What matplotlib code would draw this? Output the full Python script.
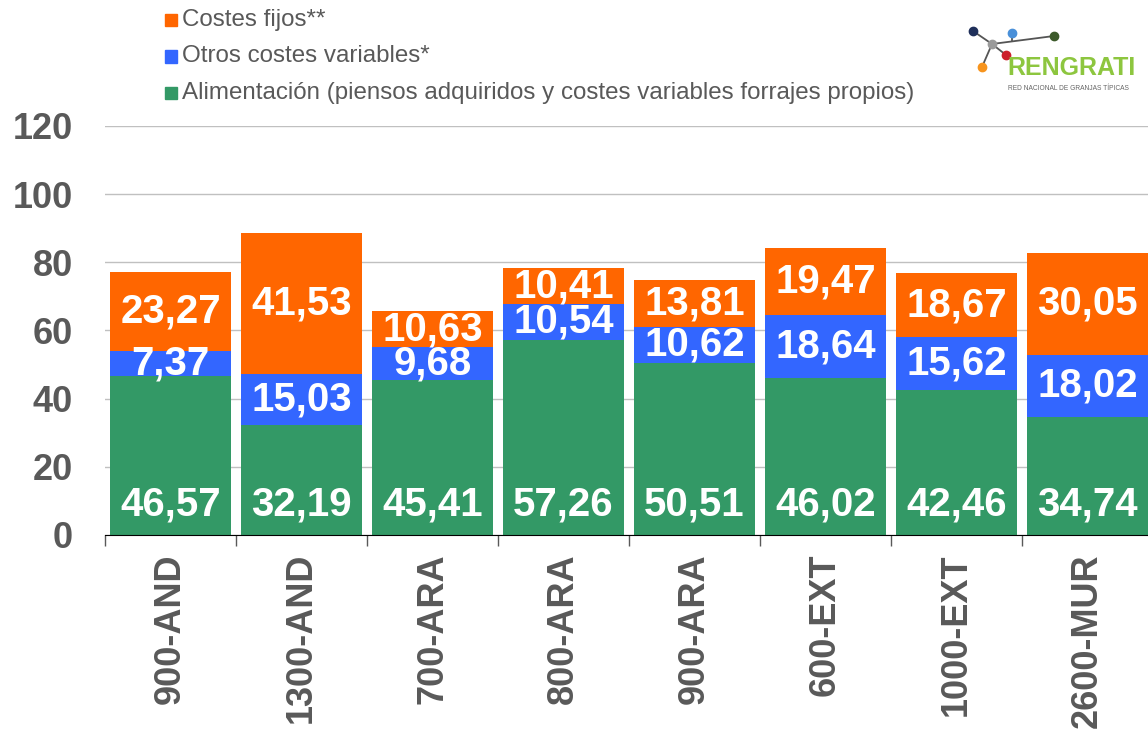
import matplotlib
matplotlib.use('Agg')
from matplotlib import pyplot as plt
from matplotlib.patches import Rectangle
import numpy as np

plt.rcParams['font.family'] = ['Liberation Sans', 'DejaVu Sans']

categories = ['900-AND', '1300-AND', '700-ARA', '800-ARA', '900-ARA', '600-EXT', '1000-EXT', '2600-MUR']
alimentacion = [46.57, 32.19, 45.41, 57.26, 50.51, 46.02, 42.46, 34.74]
otros_variables = [7.37, 15.03, 9.68, 10.54, 10.62, 18.64, 15.62, 18.02]
costes_fijos = [23.27, 41.53, 10.63, 10.41, 13.81, 19.47, 18.67, 30.05]
series_names = ['Costes fijos**', 'Otros costes variables*',
                'Alimentación (piensos adquiridos y costes variables forrajes propios)']
y_ticks = [0, 20, 40, 60, 80, 100, 120]

GREEN = '#339966'
BLUE = '#3366FF'
ORANGE = '#FF6600'
TXT = '#595959'


def fmt(v):
    return '{:.2f}'.format(v).replace('.', ',')


fig = plt.figure(figsize=(11.48, 7.31), dpi=100)
ax = fig.add_axes([105 / 1148, 196 / 731, 1048 / 1148, 409 / 731])

x = np.arange(len(categories))
green = np.array(alimentacion)
blue = np.array(otros_variables)
orange = np.array(costes_fijos)
ax.bar(x, green, width=0.92, color=GREEN, zorder=2)
ax.bar(x, blue, width=0.92, bottom=green, color=BLUE, zorder=2)
ax.bar(x, orange, width=0.92, bottom=green + blue, color=ORANGE, zorder=2)

lab = dict(color='white', fontsize=29, fontweight='bold', ha='center', zorder=3)
for i in x:
    ax.text(i, 3.4, fmt(green[i]), va='bottom', **lab)
    ax.text(i, green[i] + blue[i] / 2, fmt(blue[i]), va='center', **lab)
    ax.text(i, green[i] + blue[i] + orange[i] / 2, fmt(orange[i]), va='center', **lab)

ax.set_xlim(-0.5, len(categories) - 0.5)
ax.set_ylim(0, 120)
ax.set_yticks(y_ticks)
ax.set_yticklabels([str(t) for t in y_ticks], fontsize=26, fontweight='bold', color=TXT)
ax.tick_params(axis='y', length=0, pad=23)
ax.grid(axis='y', color='#C0C0C0', linewidth=1, zorder=0)
ax.set_xticks(x)
ax.set_xticklabels(categories, rotation=90, fontsize=26, fontweight='bold', color=TXT, va='top')
ax.tick_params(axis='x', length=0, pad=13)
ax.set_xticks(np.arange(-0.5, len(categories)), minor=True)
ax.tick_params(axis='x', which='minor', length=8, width=1, color='#595959', direction='out')
for s in ['top', 'right', 'left']:
    ax.spines[s].set_visible(False)
ax.spines['bottom'].set_color('black')
ax.spines['bottom'].set_zorder(4)

# legend
for k, (name, col) in enumerate(zip(series_names, [ORANGE, BLUE, GREEN])):
    yc = 731 - (20 + 36.5 * k)
    fig.patches.append(Rectangle((165 / 1148, (yc - 6) / 731), 12 / 1148, 12 / 731,
                                 transform=fig.transFigure, color=col))
    fig.text(182 / 1148, yc / 731, name, fontsize=17.4, color=TXT, va='center', ha='left')

# logo
lg = fig.add_axes([960 / 1148, 1 - 100 / 731, 188 / 1148, 80 / 731])
lg.set_xlim(960, 1148)
lg.set_ylim(100, 20)
lg.axis('off')
gray_pt = (992, 44)
for p in [(973, 31), (982, 67), (1006, 55), (1054, 36)]:
    lg.plot([gray_pt[0], p[0]], [gray_pt[1], p[1]], color='#555555', lw=1.3, zorder=1)
lg.plot([1012, 1012], [33, 41], color='#555555', lw=1.3, zorder=1)
dots = [((973, 31), '#1f2f5a'), ((1012, 33), '#4a90d9'), ((1054, 36), '#3c5a2a'),
        (gray_pt, '#9a9a9a'), ((1006, 55), '#cc1f2b'), ((982, 67), '#f7941d')]
for (px, py), c in dots:
    lg.scatter(px, py, s=36, color=c, zorder=2)
lg.text(1007, 75, 'RENGRATI', color='#8dc63f', fontsize=18, fontweight='bold', ha='left', va='baseline')
lg.text(1008, 88, 'RED NACIONAL DE GRANJAS TÍPICAS', color='#666666', fontsize=4.8, ha='left', va='center')

plt.savefig('out.png', dpi=100)
